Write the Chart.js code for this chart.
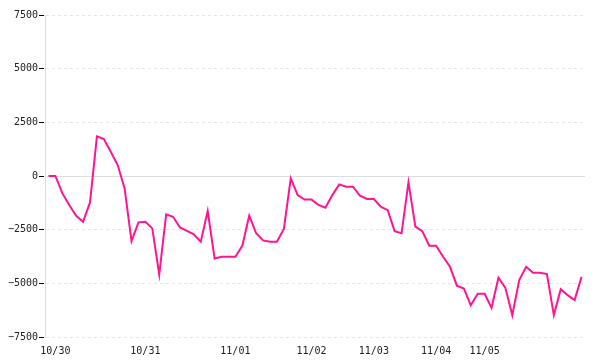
<!DOCTYPE html>
<html>
<head>
<meta charset="utf-8">
<script src="https://cdn.jsdelivr.net/npm/chart.js@4/dist/chart.umd.min.js"></script>
<style>
  html, body { margin: 0; padding: 0; background: #fff; }
  #wrap { width: 600px; height: 360px; }
</style>
</head>
<body>
<div id="wrap"><canvas id="myChart"></canvas></div>
<script>
// tick labels sit on the first sample of each day
const tickDays = ['10/30', '10/31', '11/01', '11/02', '11/03', '11/04', '11/05'];
const tickAt = [1, 14, 27, 38, 47, 56, 63];

const values = [
  0, 0, -800, -1350, -1850, -2130, -1230, 1850, 1725, 1130,
  510, -575, -3030, -2160, -2130, -2440, -4590, -1790, -1900, -2400,
  -2560, -2720, -3060, -1630, -3840, -3760, -3760, -3760, -3250, -1850,
  -2670, -3000, -3060, -3060, -2470, -110, -890, -1100, -1100, -1350,
  -1480, -890, -390, -500, -500, -920, -1070, -1070, -1430, -1590,
  -2570, -2670, -300, -2360, -2570, -3250, -3250, -3760, -4230, -5110,
  -5240, -6020, -5490, -5490, -6140, -4740, -5210, -6480, -4850, -4230,
  -4510, -4510, -4570, -6480, -5270, -5550, -5780, -4700
];

const yMin = -7500;
const yMax = 7500;
const yStep = 2500;

const labels = values.map((v, i) => {
  const k = tickAt.indexOf(i);
  return k < 0 ? '' : tickDays[k];
});

const font = { family: 'DejaVu Sans Mono', size: 10 };

// solid line at zero, the other grid lines are dashed
const zeroLine = {
  id: 'zeroLine',
  beforeDatasetsDraw(c) {
    const y = Math.round(c.scales.y.getPixelForValue(0)) + 0.5;
    const ctx = c.ctx;
    ctx.save();
    ctx.strokeStyle = '#dddddd';
    ctx.lineWidth = 1;
    ctx.beginPath();
    ctx.moveTo(c.chartArea.left, y);
    ctx.lineTo(c.chartArea.right, y);
    ctx.stroke();
    ctx.restore();
  }
};

const chart = new Chart(document.querySelector('#myChart').getContext('2d'), {
  type: 'line',
  data: {
    labels: labels,
    datasets: [{
      data: values,
      borderColor: '#ff1493',
      borderWidth: 2,
      pointRadius: 0,
      tension: 0,
      fill: false
    }]
  },
  options: {
    responsive: true,
    maintainAspectRatio: false,
    animation: false,
    layout: { padding: { top: 15, right: 15, left: 0, bottom: 0 } },
    plugins: { legend: { display: false }, tooltip: { enabled: false } },
    scales: {
      x: {
        offset: true,
        grid: { display: false },
        border: { display: false },
        ticks: {
          autoSkip: false,
          maxRotation: 0,
          color: '#222',
          font: font,
          padding: 0,
          callback: function (val, idx) {
            const t = labels[idx];
            return t === '' ? null : t;
          }
        },
        afterFit: (s) => { s.height = 23; }
      },
      y: {
        min: yMin,
        max: yMax,
        border: { display: true, color: '#dddddd', width: 1, dash: [3, 3] },
        grid: {
          color: (c) => c.tick && c.tick.value === 0 ? 'rgba(0,0,0,0)' : '#e6e6e6',
          lineWidth: 1,
          tickColor: '#000',
          tickLength: 6,
          tickBorderDash: [5, 1]
        },
        ticks: {
          stepSize: yStep,
          color: '#222',
          font: font,
          padding: 1,
          callback: (v) => v < 0 ? '\u2212' + Math.abs(v) : String(v)
        },
        afterFit: (s) => { s.width = 45; }
      }
    }
  },
  plugins: [zeroLine]
});
</script>
</body>
</html>
